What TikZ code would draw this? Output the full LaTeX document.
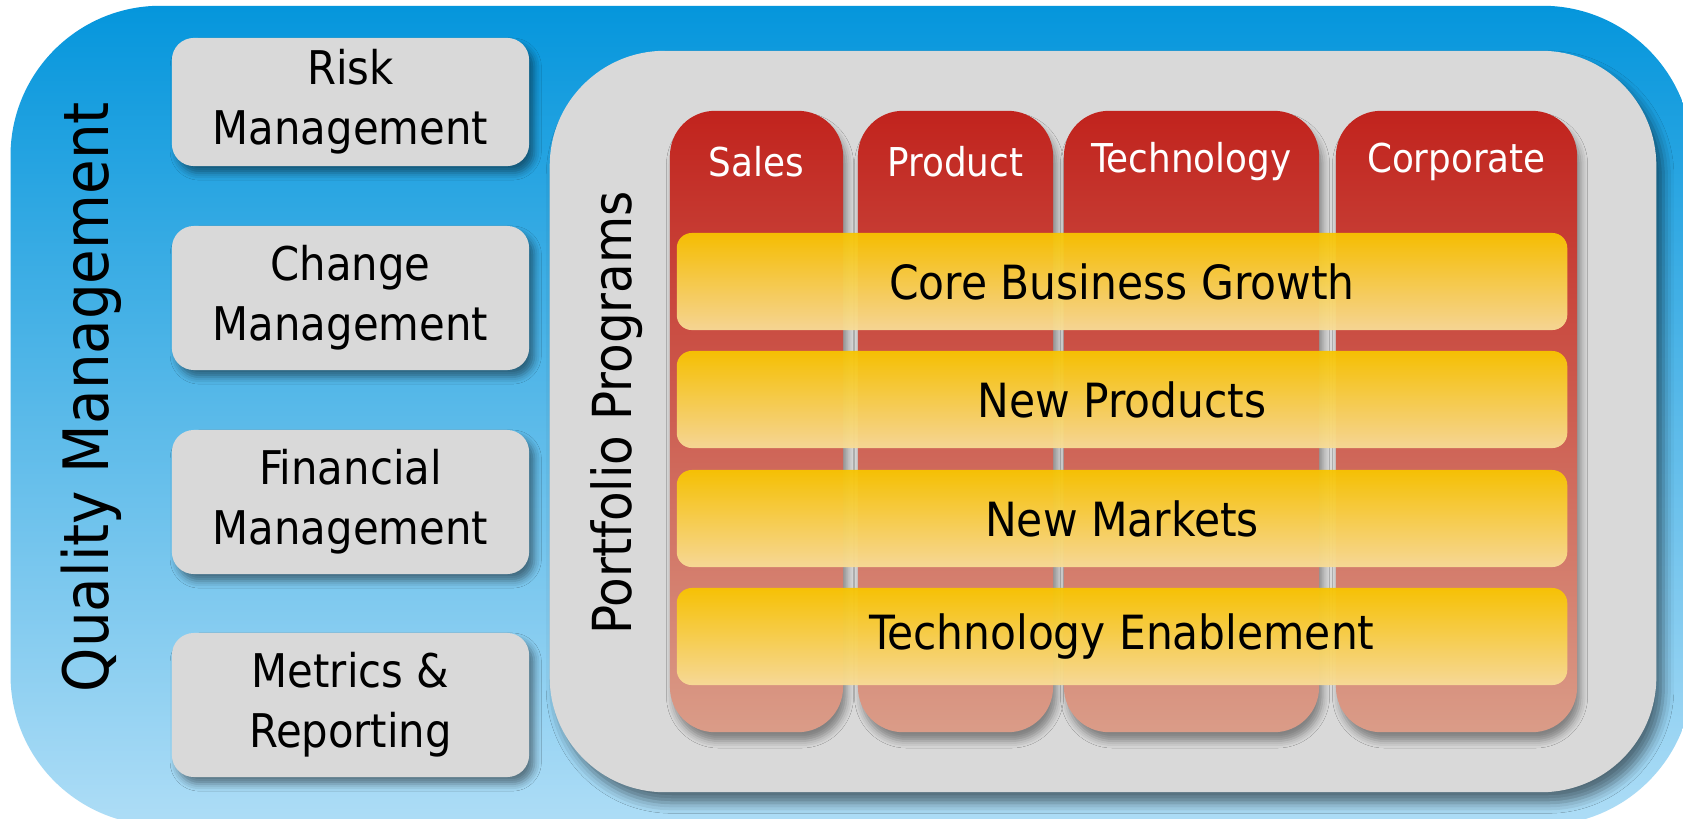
\documentclass[tikz,border=0pt]{standalone}
\usepackage{fontspec}
\setmainfont{DejaVu Sans Condensed}
\usetikzlibrary{shadows.blur}

\definecolor{qmtop}{HTML}{0596DC}
\definecolor{qmbottom}{HTML}{AEDDF6}
\definecolor{boxgrey}{HTML}{D9D9D9}
\definecolor{coltop}{HTML}{C1231D}
\definecolor{colbottom}{HTML}{DA9C88}
\definecolor{bartop}{HTML}{F8C500}
\definecolor{barbottom}{HTML}{F8DC98}

\begin{document}
\begin{tikzpicture}[x=0.01cm,y=-0.01cm,
  mgmtbox/.style={fill=boxgrey, rounded corners=0.22cm, minimum width=3.57cm,
    align=center, font=\fontsize{13.2}{17}\selectfont,
    blur shadow={shadow xshift=1.5pt, shadow yshift=-2pt, shadow blur radius=2pt, shadow opacity=45}},
  deptcol/.style={top color=coltop, bottom color=colbottom, rounded corners=0.45cm,
    minimum height=6.21cm, inner sep=0pt,
    blur shadow={shadow xshift=1pt, shadow yshift=-2.5pt, shadow blur radius=2pt, shadow opacity=40}},
  depttext/.style={text=white, font=\fontsize{11.3}{13}\selectfont},
  progbar/.style={top color=bartop, bottom color=barbottom, fill opacity=0.95, text opacity=1,
    rounded corners=0.15cm, minimum width=8.9cm, minimum height=0.97cm,
    font=\fontsize{13.4}{16}\selectfont}]

\clip (0,0) rectangle (1683,818);
\fill[white] (0,0) rectangle (1683,818);

\node[top color=qmtop, bottom color=qmbottom, rounded corners=1.5cm,
  minimum width=16.81cm, minimum height=8.19cm, inner sep=0pt] (quality) at (851.5,415.5) {};
\node[rotate=90, font=\fontsize{17.8}{21}\selectfont] (qm) at (91,397) {Quality Management};

\node[mgmtbox, minimum height=1.28cm] (risk) at (350.5,102) {Risk\\Management};
\node[mgmtbox, minimum height=1.44cm] (change) at (350.5,298) {Change\\Management};
\node[mgmtbox, minimum height=1.44cm] (finance) at (350.5,502) {Financial\\Management};
\node[mgmtbox, minimum height=1.44cm] (metrics) at (350.5,705) {Metrics \&\\Reporting};

\node[fill=boxgrey, rounded corners=1.15cm, minimum width=11.06cm, minimum height=7.41cm,
  blur shadow={shadow xshift=2pt, shadow yshift=-3pt, shadow blur radius=3pt, shadow opacity=50}]
  (portfolio) at (1103,421.5) {};
\node[rotate=90, font=\fontsize{15.3}{18}\selectfont] (pp) at (617,413) {Portfolio Programs};

\foreach \name/\cx/\w/\lbl in {sales/756.5/1.73/Sales, product/955.5/1.95/Product,
  tech/1191.5/2.55/Technology, corp/1456.5/2.41/Corporate}
{
  \node[deptcol, minimum width=\w cm] (\name) at (\cx,421.5) {};
  \node[depttext] (\name-lbl) at (\cx,162) {\lbl};
}

\foreach \name/\cy/\lbl in {core/281.5/Core Business Growth, newprod/399.5/New Products,
  newmkt/518.5/New Markets, techen/636.5/Technology Enablement}
{
  \node[progbar] (\name) at (1122,\cy) {\lbl};
}
\end{tikzpicture}
\end{document}
